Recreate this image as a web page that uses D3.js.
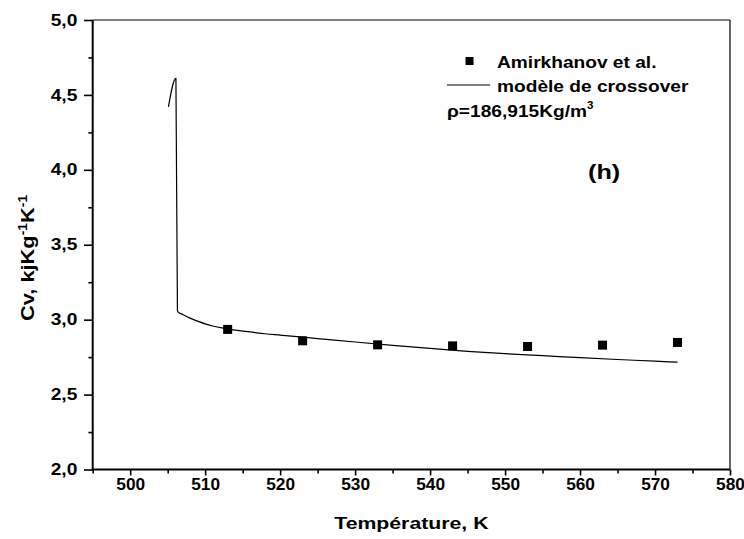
<!DOCTYPE html>
<html>
<head>
<meta charset="utf-8">
<script src="https://cdn.jsdelivr.net/npm/d3@7"></script>
<style>
  body { margin: 0; background: #fff; }
  svg text { font-family: "Liberation Sans", Arial, sans-serif; font-weight: bold; fill: #000; }
</style>
</head>
<body>
<svg id="chart" width="744" height="539"></svg>
<script>
// Experimental points (Amirkhanov et al.)
const expT  = [513, 523, 533, 543, 553, 563, 573];
const expCv = [2.935, 2.859, 2.832, 2.825, 2.821, 2.830, 2.848];

// Crossover model curve
const modelT  = [505.1, 506.1, 506.3, 506.4, 507.0, 508.0, 509.0, 510.0, 511.0, 512.4, 514.0, 516.0, 518.0, 520.0, 525.0, 530.0, 535.0, 540.0, 545.0, 550.0, 555.0, 560.0, 565.0, 570.0, 573.0];
const modelCv = [4.42, 4.61, 3.06, 3.05, 3.035, 3.01, 2.99, 2.972, 2.958, 2.943, 2.93, 2.918, 2.906, 2.897, 2.874, 2.851, 2.829, 2.808, 2.789, 2.773, 2.760, 2.746, 2.734, 2.723, 2.716];

// Axis ticks
const xTicks = [500, 510, 520, 530, 540, 550, 560, 570, 580];
const xMinor = [495, 505, 515, 525, 535, 545, 555, 565, 575];
const yTicks = [2.0, 2.5, 3.0, 3.5, 4.0, 4.5, 5.0];
const yMinor = [2.25, 2.75, 3.25, 3.75, 4.25, 4.75];

const svg = d3.select("#chart");
const L = 92.7, R = 730, T = 20, B = 469.5;

const x = d3.scaleLinear().domain([495, 580]).range([L, R]);
const y = d3.scaleLinear().domain([2.0, 5.0]).range([B, T]);
const comma = v => d3.format(".1f")(v).replace(".", ",");

// Major / minor ticks
const gx = svg.append("g").attr("transform", `translate(0,${B})`)
  .call(d3.axisBottom(x).tickValues(xTicks).tickSize(6).tickPadding(3.5).tickFormat(d3.format("d")));
svg.append("g").attr("transform", `translate(0,${B})`)
  .call(d3.axisBottom(x).tickValues(xMinor).tickSize(4).tickFormat(""));
const gy = svg.append("g").attr("transform", `translate(${L},0)`)
  .call(d3.axisLeft(y).tickValues(yTicks).tickSize(8.7).tickPadding(6).tickFormat(comma));
svg.append("g").attr("transform", `translate(${L},0)`)
  .call(d3.axisLeft(y).tickValues(yMinor).tickSize(4.3).tickFormat(""));

svg.selectAll(".domain").remove();
svg.selectAll(".tick line").attr("stroke", "#000").attr("stroke-width", 1.6);
svg.selectAll(".tick text")
  .attr("font-family", null)
  .style("font-size", "16px").style("font-weight", "bold");
gx.selectAll(".tick text").attr("transform", "scale(1.08,1)");
gy.selectAll(".tick text").attr("x", -15.4 / 1.2).attr("transform", "scale(1.2,1)");

// Frame
svg.append("line").attr("x1", L).attr("x2", R).attr("y1", T).attr("y2", T).attr("stroke", "#000").attr("stroke-width", 1.2);
svg.append("line").attr("x1", R).attr("x2", R).attr("y1", T).attr("y2", B).attr("stroke", "#000").attr("stroke-width", 1.2);
svg.append("line").attr("x1", L).attr("x2", L).attr("y1", T).attr("y2", B + 1).attr("stroke", "#000").attr("stroke-width", 2);
svg.append("line").attr("x1", L - 1).attr("x2", R).attr("y1", B).attr("y2", B).attr("stroke", "#000").attr("stroke-width", 2);

// Model curve
const model = modelT.map((t, i) => [t, modelCv[i]]);
svg.append("path")
  .datum(model)
  .attr("fill", "none").attr("stroke", "#000").attr("stroke-width", 1.2)
  .attr("d", d3.line().x(d => x(d[0])).y(d => y(d[1])).curve(d3.curveMonotoneX));

// Experimental squares
const sq = 9;
svg.selectAll("rect.exp")
  .data(expT.map((t, i) => [t, expCv[i]]))
  .join("rect").attr("class", "exp")
  .attr("x", d => x(d[0]) - sq / 2).attr("y", d => y(d[1]) - sq / 2)
  .attr("width", sq).attr("height", sq).attr("fill", "#000");

// Wide text helper
function wtext(px, py, size, sx, anchor) {
  return svg.append("text")
    .attr("transform", `translate(${px},${py}) scale(${sx},1)`)
    .attr("text-anchor", anchor || "start")
    .style("font-size", size + "px");
}

// Axis titles
wtext((L + R) / 2, 529, 17, 1.25, "middle").text("Température, K");

const yt = svg.append("text")
  .attr("transform", `translate(34,258) rotate(-90) scale(1.15,1)`)
  .attr("text-anchor", "middle").style("font-size", "19px");
yt.append("tspan").text("Cv, kjKg");
yt.append("tspan").attr("dy", -7).style("font-size", "12px").text("-1");
yt.append("tspan").attr("dy", 7).text("K");
yt.append("tspan").attr("dy", -7).style("font-size", "12px").text("-1");

// Legend
svg.append("rect").attr("x", 465.5).attr("y", 57).attr("width", 8).attr("height", 8).attr("fill", "#000");
wtext(497, 67.5, 16.5, 1.16).text("Amirkhanov et al.");
svg.append("line").attr("x1", 447).attr("x2", 490).attr("y1", 85).attr("y2", 85).attr("stroke", "#000").attr("stroke-width", 1.2);
wtext(497, 91.5, 16.5, 1.16).text("modèle de crossover");
const rho = wtext(447, 117, 16.5, 1.16);
rho.append("tspan").text("ρ=186,915Kg/m");
rho.append("tspan").attr("dy", -8).style("font-size", "10px").text("3");

wtext(588, 179, 21, 1.2).text("(h)");
</script>
</body>
</html>
